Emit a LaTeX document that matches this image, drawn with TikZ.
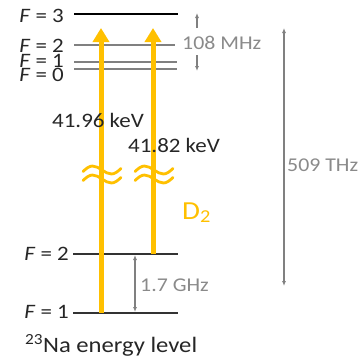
\documentclass[tikz,border=0pt]{standalone}
\usepackage{fontspec}
\setmainfont[FakeStretch=1.12]{Carlito}
\usetikzlibrary{arrows.meta}
\definecolor{gold}{HTML}{FFC000}
\definecolor{dtext}{HTML}{262626}
\definecolor{gtext}{HTML}{8A8A8A}
\definecolor{gline}{HTML}{808080}
\begin{document}
\begin{tikzpicture}[x=1pt,y=-1pt,
  lbl/.style={inner sep=0pt,text=dtext,font=\fontsize{20.5}{24}\selectfont},
  glbl/.style={inner sep=0pt,text=gtext,font=\fontsize{19.5}{23}\selectfont},
  lvlblack/.style={line width=1.3pt,draw=black},
  lvlgray/.style={line width=1.3pt,draw=gline},
  lvldark/.style={line width=1.3pt,draw=black!80},
  trans/.style={line width=5pt,draw=gold,-{Triangle[length=14pt,width=16pt]}},
  brk/.style={line width=2.8pt,draw=gold,line cap=round},
  meas/.style={line width=1.1pt,draw=gline,{Latex[length=5pt,width=4pt]}-{Latex[length=5pt,width=4pt]}},
  measone/.style={line width=1.1pt,draw=gline,-{Latex[length=5pt,width=4pt]}}
]
\useasboundingbox (0,0) rectangle (362,360);
% levels
\coordinate (f3a) at (74,14);  \coordinate (f3b) at (178,14);
\coordinate (f2a) at (74,45);  \coordinate (f2b) at (175,45);
\coordinate (f1a) at (74,62);  \coordinate (f1b) at (177,62);
\coordinate (f0a) at (74,69);  \coordinate (f0b) at (177,69);
\coordinate (g2a) at (73,254); \coordinate (g2b) at (178,254);
\coordinate (g1a) at (73,313); \coordinate (g1b) at (178,313);
\draw[lvlblack] (f3a) -- (f3b);
\draw[lvlgray] (f2a) -- (f2b);
\draw[lvlgray] (f1a) -- (f1b);
\draw[lvlgray] (f0a) -- (f0b);
\draw[lvldark] (g2a) -- (g2b);
\draw[lvldark] (g1a) -- (g1b);
% level labels
\node[lbl,anchor=base east] (l3) at (64,22) {\textit{F} = 3};
\node[lbl,anchor=base east] (l2) at (64,52) {\textit{F} = 2};
\node[lbl,anchor=base east] (l1) at (64,67) {\textit{F} = 1};
\node[lbl,anchor=base east] (l0) at (64,81) {\textit{F} = 0};
\node[lbl,anchor=base east] (m2) at (69,260) {\textit{F} = 2};
\node[lbl,anchor=base east] (m1) at (69,318) {\textit{F} = 1};
% transitions
\coordinate (a1s) at (101,313); \coordinate (a1e) at (101,28);
\coordinate (a2s) at (153,254); \coordinate (a2e) at (153,28);
\draw[trans] (a1s) -- (a1e);
\draw[trans] (a2s) -- (a2e);
% breaks
\foreach \cx in {102,154}{
  \foreach \cy in {170,179}{
    \draw[brk] (\cx-19,\cy+1.5) sin (\cx-9.5,\cy-4) cos (\cx,\cy) sin (\cx+9.5,\cy+4) cos (\cx+19,\cy-1.5);
  }
}
\node[lbl,anchor=base west] (k1) at (52,127) {41.96 keV};
\node[lbl,anchor=base west] (k2) at (128,152) {41.82 keV};
\node[inner sep=0pt,text=gold,font=\fontsize{26}{29}\selectfont,anchor=base west] (d2) at (182,219) {D\textsubscript{2}};
% measures
\coordinate (h1) at (197,28); \coordinate (h1t) at (197,13);
\coordinate (h2) at (197,55); \coordinate (h2t) at (197,71);
\draw[measone] (h1) -- (h1t);
\draw[measone] (h2) -- (h2t);
\node[glbl,anchor=base west] (mhz) at (182,49) {108 MHz};
\coordinate (t1) at (284,28); \coordinate (t2) at (284,286);
\draw[meas] (t1) -- (t2);
\node[glbl,anchor=base west] (thz) at (287,171) {509 THz};
\coordinate (g1) at (135,255); \coordinate (g2) at (135,312);
\draw[meas] (g1) -- (g2);
\node[glbl,anchor=base west] (ghz) at (140,291) {1.7 GHz};
\node[lbl,anchor=base west,font=\fontsize{22}{25}\selectfont] (title) at (25,352) {\textsuperscript{23}Na energy level};
\end{tikzpicture}
\end{document}
